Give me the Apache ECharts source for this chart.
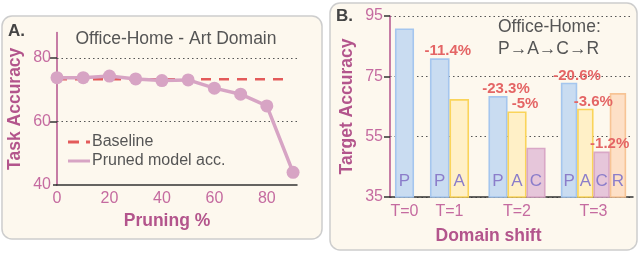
<!DOCTYPE html>
<html><head><meta charset="utf-8">
<script src="https://cdn.jsdelivr.net/npm/echarts@6/dist/echarts.min.js"></script>
<style>html,body{margin:0;padding:0;background:#fff}#c{width:640px;height:257px}</style>
</head><body><div id="c"></div>
<script>
// ---------- Panel A data ----------
const pruningPct = [0, 10, 20, 30, 40, 50, 60, 70, 80, 90];
const prunedAcc  = [73.8, 73.8, 74.3, 73.4, 72.9, 73.1, 70.5, 68.6, 64.9, 44.0];
const baselineAcc = 73.3;
const baselineRange = [0, 88.5];
const pruneTickLabels = [0, 20, 40, 60, 80];
const accTickLabelsA = [40, 60, 80];

// ---------- Panel B data ----------
const shiftSteps = ['T=0', 'T=1', 'T=2', 'T=3'];
const domains = ['P', 'A', 'C', 'R'];
const accP = [90.6, 80.7, 68.2, 72.6];
const accA = [null, 67.2, 63.1, 64.0];
const accC = [null, null, 51.1, 49.8];
const accR = [null, null, null, 69.2];
const dropP = [null, '-11.4%', '-23.3%', '-20.6%'];
const dropA = [null, null, '-5%', '-3.6%'];
const dropC = [null, null, null, '-1.2%'];
const dropR = [null, null, null, null];
const accTickLabelsB = [35, 55, 75, 95];

// ---------- layout / style ----------
const FONT = 'Liberation Sans, Arial, sans-serif';
const PINK = '#c56ba0';
const PINK_D = '#b3558c';
const yBaseB = accTickLabelsB[0];
const groupCenter = [14.5, 59.5, 127, 203.5];
const groupPitch = [19, 19.5, 19, 16.3];
const fills = ['#c9dcf1', '#fff0c7', '#e6c6da', '#fde0c7'];
const strokes = ['#a5c6ee', '#fad45a', '#d9a7c6', '#f7c495'];

const accByDomain = [accP, accA, accC, accR];
const dropByDomain = [dropP, dropA, dropC, dropR];
const barItems = [];
shiftSteps.forEach((s, k) => {
  const present = [];
  accByDomain.forEach((arr, j) => { if (arr[k] != null) present.push(j); });
  present.forEach((j, i) => {
    barItems.push({
      x: groupCenter[k] + (i - (present.length - 1) / 2) * groupPitch[k],
      y: accByDomain[j][k] - yBaseB,
      d: j, w: groupPitch[k], drop: dropByDomain[j][k]
    });
  });
});

const chart = echarts.init(document.getElementById('c'), null, {renderer: 'canvas'});
const axisLabelA = {color: PINK, fontSize: 16, fontFamily: FONT};
const nameStyle = {color: PINK_D, fontSize: 17.5, fontWeight: 'bold', fontFamily: FONT};
const dotted = {color: '#555', width: 1.2, type: [1.5, 3]};

chart.setOption({
  animation: false,
  backgroundColor: '#ffffff',
  textStyle: {fontFamily: FONT},
  grid: [
    {left: 57, top: 32.6, width: 240, height: 152.4, containLabel: false},
    {left: 390, top: 16, width: 243, height: 181, containLabel: false}
  ],
  legend: {
    left: 68, top: 134, orient: 'vertical', itemGap: 3, padding: 0,
    itemWidth: 22, itemHeight: 3, symbolKeepAspect: false,
    textStyle: {color: '#555', fontSize: 16, fontFamily: FONT, padding: [0, 0, 0, -3]},
    data: [
      {name: 'Baseline', icon: 'path://M0,0h11v3h-11zM18,0h4v3h-4z'},
      {name: 'Pruned model acc.', icon: 'path://M0,0h22v3h-22z'}
    ]
  },
  xAxis: [
    {
      type: 'value', gridIndex: 0, min: 0, max: 91.5,
      axisLine: {show: true, onZero: false, lineStyle: {color: '#333', width: 1.5}},
      axisTick: {show: false},
      axisLabel: Object.assign({margin: 6, customValues: pruneTickLabels}, axisLabelA),
      splitLine: {show: false},
      name: 'Pruning %', nameLocation: 'middle', nameGap: 27,
      nameTextStyle: Object.assign({padding: [0, 20, 0, 0]}, nameStyle)
    },
    {
      type: 'value', gridIndex: 1, min: 0, max: 243,
      axisLine: {show: true, onZero: false, lineStyle: {color: '#333', width: 1.5}},
      axisTick: {show: false},
      axisLabel: Object.assign({
        margin: 7, customValues: groupCenter,
        formatter: v => { const i = groupCenter.indexOf(v); return i >= 0 ? shiftSteps[i] : ''; }
      }, axisLabelA),
      splitLine: {show: false},
      name: 'Domain shift', nameLocation: 'middle', nameGap: 30,
      nameTextStyle: Object.assign({padding: [0, 46, 0, 0]}, nameStyle)
    }
  ],
  yAxis: [
    {
      type: 'value', gridIndex: 0, min: 40, max: 88,
      axisLine: {show: true, onZero: false, lineStyle: {color: PINK_D, width: 1.5}},
      axisTick: {show: true, length: 4, customValues: accTickLabelsA, lineStyle: {color: '#333', width: 1.5}},
      axisLabel: Object.assign({margin: 6, customValues: accTickLabelsA}, axisLabelA),
      splitLine: {show: false},
      name: 'Task Accuracy', nameLocation: 'middle', nameGap: 33, nameTextStyle: nameStyle
    },
    {
      type: 'value', gridIndex: 1, min: 0, max: 60, interval: 20,
      axisLine: {show: true, onZero: false, lineStyle: {color: PINK_D, width: 1.5}},
      axisTick: {show: true, length: 3, lineStyle: {color: '#333', width: 1.5}},
      axisLabel: Object.assign({margin: 7, formatter: v => String(v + yBaseB)}, axisLabelA),
      splitLine: {show: true, lineStyle: dotted},
      name: 'Target Accuracy', nameLocation: 'middle', nameGap: 34, nameTextStyle: nameStyle
    },
    {
      type: 'value', gridIndex: 0, min: 40, max: 88, position: 'right',
      axisLine: {show: false}, axisLabel: {show: false}, splitLine: {show: false},
      axisTick: {show: true, inside: true, length: 7, customValues: accTickLabelsA.slice(1),
                 lineStyle: {color: '#333', width: 1.5}}
    },
    {
      type: 'value', gridIndex: 1, min: 0, max: 60, interval: 20, position: 'right',
      axisLine: {show: false}, axisLabel: {show: false}, splitLine: {show: false},
      axisTick: {show: true, inside: true, length: 6, lineStyle: {color: '#333', width: 1.5}}
    }
  ],
  series: [
    {
      name: 'Baseline', type: 'line', xAxisIndex: 0, yAxisIndex: 0, z: 2,
      data: baselineRange.map(x => [x, baselineAcc]),
      symbol: 'none', color: '#e35a5a',
      lineStyle: {color: '#e35a5a', width: 2.5, type: [10, 8]},
      markLine: {
        silent: true, symbol: 'none', z: 1, label: {show: false},
        lineStyle: dotted, emphasis: {disabled: true},
        data: accTickLabelsA.slice(1).map(v => ({yAxis: v}))
      }
    },
    {
      name: 'Pruned model acc.', type: 'line', xAxisIndex: 0, yAxisIndex: 0, z: 3,
      data: pruningPct.map((p, i) => [p, prunedAcc[i]]),
      symbol: 'circle', symbolSize: 13, color: '#d7a4c4',
      itemStyle: {color: '#d7a4c4'},
      lineStyle: {color: '#d7a4c4', width: 3.5}
    },
    {
      name: 'bars', type: 'custom', xAxisIndex: 1, yAxisIndex: 1, z: 3,
      data: barItems.map(b => [b.x, b.y]),
      renderItem: (params, api) => {
        const it = barItems[params.dataIndex];
        const top = api.coord([api.value(0), api.value(1)]);
        const base = api.coord([api.value(0), 0]);
        const w = api.size([it.w, 0])[0] - 1.5;
        const ch = [
          {type: 'rect', shape: {x: top[0] - w / 2, y: top[1], width: w, height: base[1] - top[1]},
           style: {fill: fills[it.d], stroke: strokes[it.d], lineWidth: 1.6}},
          {type: 'text', x: top[0], y: base[1] - 16, z2: 5,
           style: {text: domains[it.d], fill: '#8b7dca', font: '17px ' + FONT, align: 'center', verticalAlign: 'middle'}}
        ];
        if (it.drop) ch.push({type: 'text', x: top[0] + 8, y: top[1] - 8, z2: 20,
          style: {text: it.drop, fill: '#e46565', font: 'bold 15px ' + FONT, align: 'center', verticalAlign: 'middle'}});
        return {type: 'group', children: ch};
      }
    }
  ],
  graphic: [
    {type: 'rect', z: -100, shape: {x: 2, y: 16, width: 320, height: 223, r: 10},
     style: {fill: '#fdf8ee', stroke: '#cdcdcd', lineWidth: 1.5}},
    {type: 'rect', z: -100, shape: {x: 330, y: 3, width: 307, height: 247, r: 10},
     style: {fill: '#fdf8ee', stroke: '#cdcdcd', lineWidth: 1.5}},
    {type: 'text', left: 8, top: 23, style: {text: 'A.', fill: '#444', font: 'bold 17px ' + FONT}},
    {type: 'text', x: 176, y: 39, style: {text: 'Office-Home - Art Domain', fill: '#555', font: '17.5px ' + FONT, align: 'center', verticalAlign: 'middle'}},
    {type: 'text', left: 336, top: 8, style: {text: 'B.', fill: '#444', font: 'bold 17px ' + FONT}},
    {type: 'text', x: 498, y: 27, style: {text: 'Office-Home:', fill: '#555', font: '17.5px ' + FONT, verticalAlign: 'middle'}},
    {type: 'text', x: 498, y: 49, style: {text: 'P\u2192A\u2192C\u2192R', fill: '#555', font: '17.5px ' + FONT, verticalAlign: 'middle'}}
  ]
});
</script></body></html>
